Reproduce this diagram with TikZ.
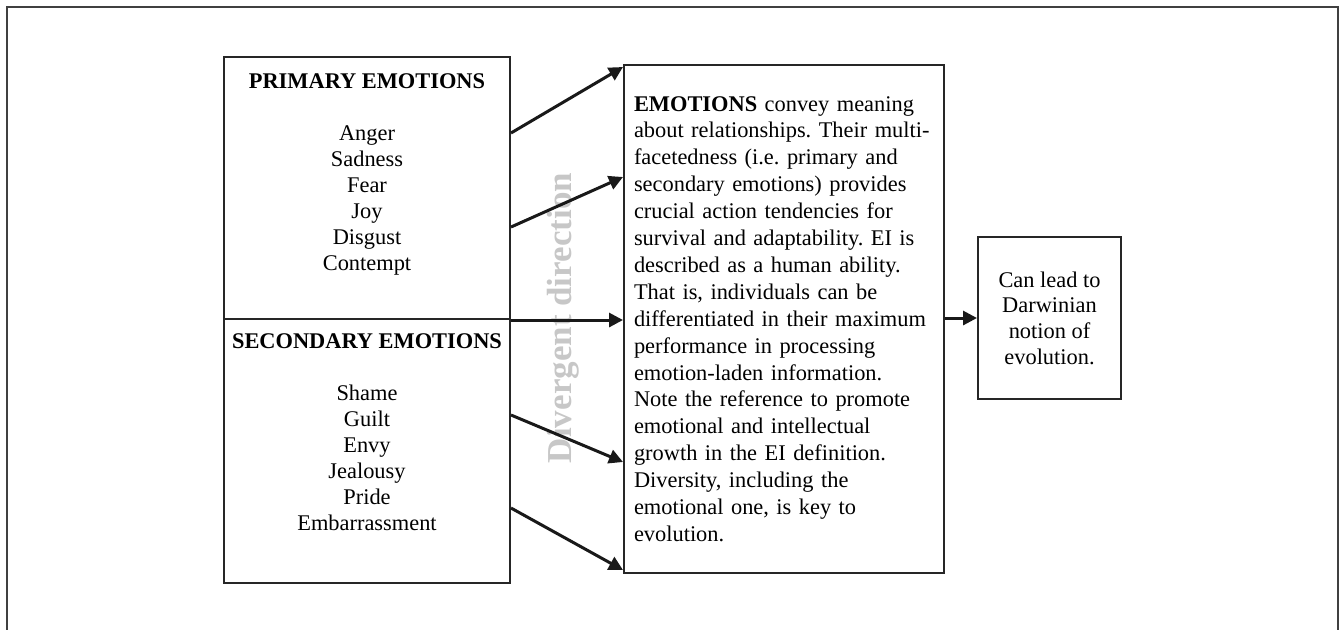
\documentclass[tikz,border=0pt]{standalone}
\usepackage{fontspec}
\setmainfont{Liberation Serif}
\usetikzlibrary{arrows.meta}

\begin{document}
\begin{tikzpicture}[x=0.5pt,y=-0.5pt,
        box/.style={draw=black!85, line width=1pt, inner sep=0pt},
        every node/.style={font=\fontsize{11.2}{13}\selectfont}]
            \path[use as bounding box, clip] (0,0) rectangle (1342,629);
            \draw[black!75, line width=1.2pt] (7,7) rectangle (1338,660);

            \node[box, minimum width=143pt, minimum height=131pt] (prim) at (367,188) {};
            \node[box, minimum width=143pt, minimum height=132pt] (sec) at (367,451) {};
            \node[box, minimum width=160pt, minimum height=254pt, text width=150pt, inner xsep=5pt,
                  align=left, font=\fontsize{11.2}{13.45}\selectfont\frenchspacing] (mid) at (784,319)
                {\textbf{EMOTIONS} convey meaning\\
                 about relationships. Their multi-\\
                 facetedness (i.e. primary and\\
                 secondary emotions) provides\\
                 crucial action tendencies for\\
                 survival and adaptability. EI is\\
                 described as a human ability.\\
                 That is, individuals can be\\
                 differentiated in their maximum\\
                 performance in processing\\
                 emotion-laden information.\\
                 Note the reference to promote\\
                 emotional and intellectual\\
                 growth in the EI definition.\\
                 Diversity, including the\\
                 emotional one, is key to\\
                 evolution.};
            \node[box, minimum width=71.5pt, minimum height=81pt, align=center,
                  font=\fontsize{11.2}{12.85}\selectfont] (darw) at (1049.5,318)
                {Can lead to\\Darwinian\\notion of\\evolution.};

            \node[anchor=north, align=center, inner sep=0pt] (primtxt) at ([yshift=-8.5pt]prim.north)
                {\textbf{PRIMARY EMOTIONS}\\[13pt]Anger\\Sadness\\Fear\\Joy\\Disgust\\Contempt};
            \node[anchor=north, align=center, inner sep=0pt] (sectxt) at ([yshift=-7.5pt]sec.north)
                {\textbf{SECONDARY EMOTIONS}\\[13pt]Shame\\Guilt\\Envy\\Jealousy\\Pride\\Embarrassment};

            \node[rotate=90, text=black!22, font=\bfseries\fontsize{17.5}{20}\selectfont] (diverg) at (563,318) {Divergent direction};

            \tikzset{arr/.style={-{Triangle[length=7pt,width=7pt]}, line width=1.5pt, black!90}}

            \draw[arr] (prim.east |- 0,133) -- (mid.west |- 0,67);
            \draw[arr] (prim.east |- 0,227) -- (mid.west |- 0,177);
            \draw[arr] (prim.south east) -- (mid.west |- prim.south east);
            \draw[arr] (sec.east |- 0,415) -- (mid.west |- 0,462);
            \draw[arr] (sec.east |- 0,508) -- (mid.west |- 0,570);
            \draw[arr] (mid.east |- darw.west) -- (darw.west);

        \end{tikzpicture}
\end{document}
